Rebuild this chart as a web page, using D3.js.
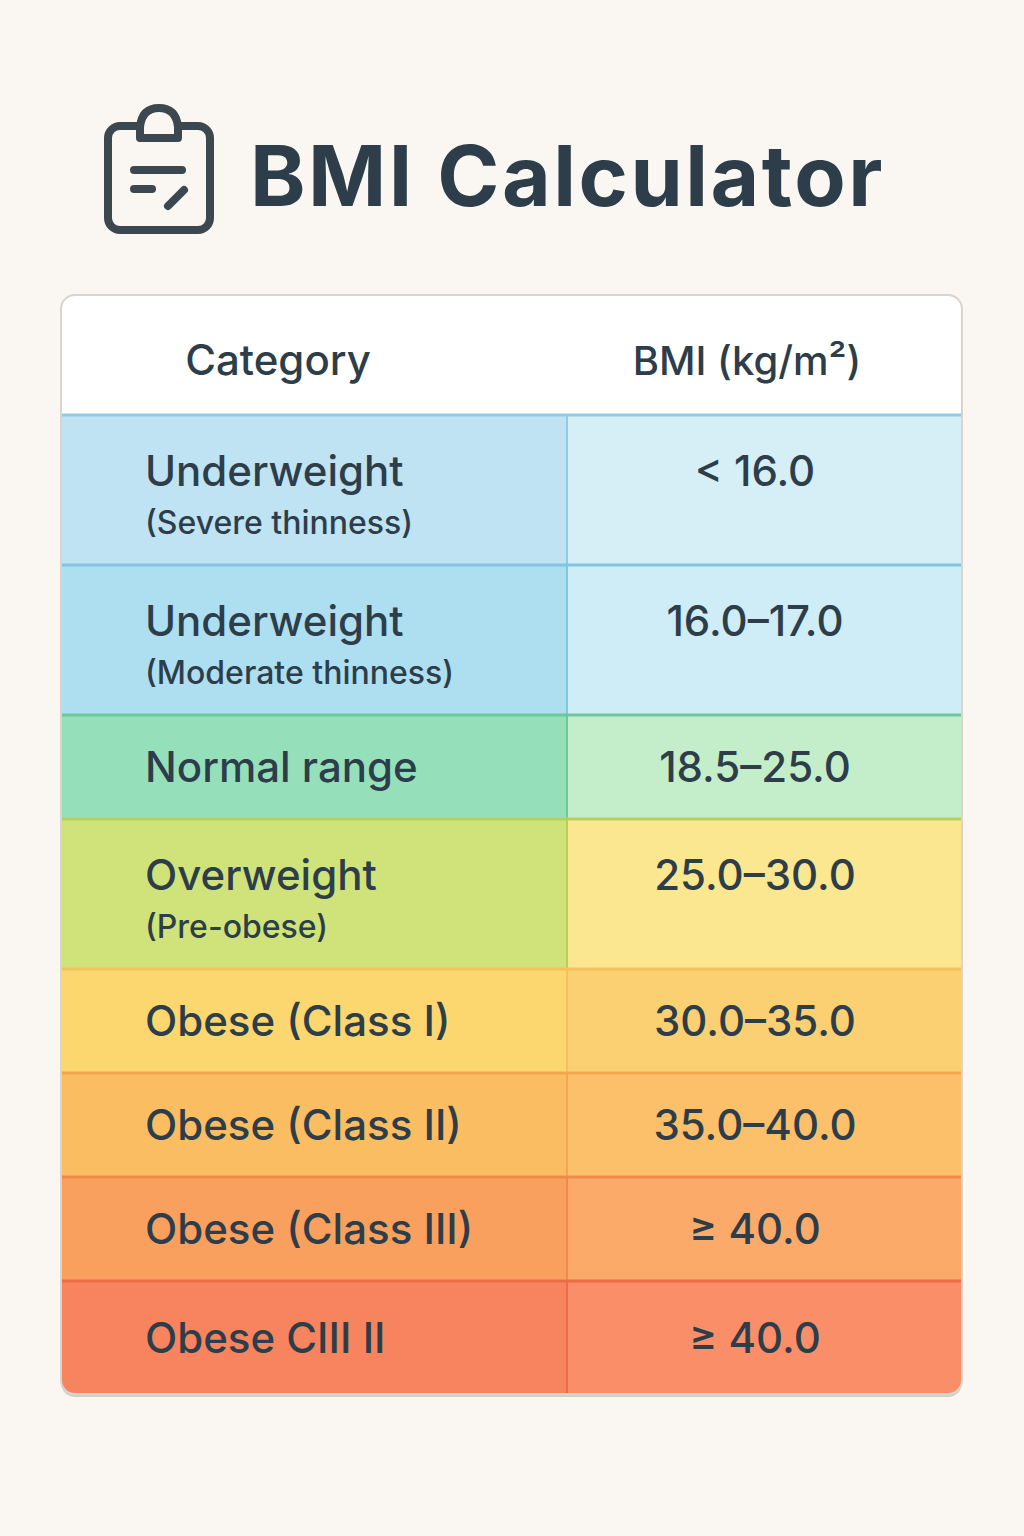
<!DOCTYPE html>
<html>
<head>
<meta charset="utf-8">
<script src="https://cdn.jsdelivr.net/npm/d3@7"></script>
<style>
  html, body { margin: 0; padding: 0; background: #faf7f2; }
  svg { display: block; }
  text { font-family: Inter, Roboto, "Noto Sans", sans-serif; fill: #2d3e4a; font-weight: 500; }
</style>
</head>
<body>
<svg id="chart" width="1024" height="1536"></svg>
<script>
// 資料
const categories = ["Underweight", "Underweight", "Normal range", "Overweight",
  "Obese (Class I)", "Obese (Class II)", "Obese (Class III)", "Obese CIII II"];
const subtitles = ["(Severe thinness)", "(Moderate thinness)", "", "(Pre-obese)", "", "", "", ""];
const ranges = ["< 16.0", "16.0\u201317.0", "18.5\u201325.0", "25.0\u201330.0",
  "30.0\u201335.0", "35.0\u201340.0", "\u2265 40.0", "\u2265 40.0"];
const leftColors = ["#bfe3f2", "#addff0", "#95e0bb", "#cfe37a", "#fcd66e", "#fbbd62", "#f9a05e", "#f8845f"];
const rightColors = ["#d6eff7", "#cfedf6", "#c4eec9", "#fae78f", "#fbd072", "#fcc06a", "#fbaa6a", "#f98e68"];
const lineColors = ["#8fcbe3", "#7fc6df", "#6cc79a", "#b9cf5c", "#f3c25a", "#f3a64d", "#f08a48", "#ee6c45"];
const headers = ["Category", "BMI (kg/m\u00b2)"];

const svg = d3.select("#chart");
const X0 = 61, X1 = 962, XS = 567, TOP = 295, HEAD = 120;

// 列高：兩行 150，單行 104（最後一列稍高）
const heights = categories.map((c, i) => subtitles[i] ? 150 : (i === categories.length - 1 ? 113 : 104));
const ys = [];
heights.reduce((acc, h) => { ys.push(acc); return acc + h; }, TOP + HEAD);
const BOTTOM = ys[ys.length - 1] + heights[heights.length - 1];

// 標題與圖示
const icon = svg.append("g").attr("fill", "none").attr("stroke", "#3b4850")
  .attr("stroke-width", 8).attr("stroke-linecap", "round").attr("stroke-linejoin", "round");
icon.append("rect").attr("x", 108).attr("y", 126).attr("width", 102).attr("height", 104).attr("rx", 12);
icon.append("path").attr("d", "M140,138 L140,127 Q142,108 159,108 Q176,108 178,127 L178,138 Z")
  .attr("fill", "#faf7f2");
icon.append("line").attr("x1", 134).attr("y1", 170).attr("x2", 182).attr("y2", 170);
icon.append("line").attr("x1", 134).attr("y1", 189).attr("x2", 152).attr("y2", 189);
icon.append("line").attr("x1", 168).attr("y1", 206).attr("x2", 184).attr("y2", 190);

svg.append("text").attr("x", 250).attr("y", 206).attr("font-size", 84).style("font-weight", 700)
  .attr("letter-spacing", 2.5).text("BMI Calculator");

// 表格外框
const defs = svg.append("defs");
defs.append("clipPath").attr("id", "clip").append("rect")
  .attr("x", X0).attr("y", TOP).attr("width", X1 - X0).attr("height", BOTTOM - TOP).attr("rx", 14);

svg.append("rect").attr("x", X0).attr("y", TOP + 3).attr("width", X1 - X0).attr("height", BOTTOM - TOP)
  .attr("rx", 14).attr("fill", "#d6cfc6");

const table = svg.append("g").attr("clip-path", "url(#clip)");
table.append("rect").attr("x", X0).attr("y", TOP).attr("width", X1 - X0).attr("height", HEAD).attr("fill", "#fff");

const rows = table.selectAll("g.row").data(categories).join("g").attr("class", "row");
rows.append("rect").attr("x", X0).attr("y", (d, i) => ys[i]).attr("width", XS - X0)
  .attr("height", (d, i) => heights[i]).attr("fill", (d, i) => leftColors[i]);
rows.append("rect").attr("x", XS).attr("y", (d, i) => ys[i]).attr("width", X1 - XS)
  .attr("height", (d, i) => heights[i]).attr("fill", (d, i) => rightColors[i]);
rows.append("line").attr("x1", X0).attr("x2", X1).attr("y1", (d, i) => ys[i]).attr("y2", (d, i) => ys[i])
  .attr("stroke", (d, i) => lineColors[i]).attr("stroke-width", 3);
rows.append("line").attr("x1", XS).attr("x2", XS).attr("y1", (d, i) => ys[i])
  .attr("y2", (d, i) => ys[i] + heights[i]).attr("stroke", (d, i) => lineColors[i]).attr("stroke-width", 2);

// 文字
const mainY = i => subtitles[i] ? ys[i] + 71 : ys[i] + heights[i] / 2 + 15;
rows.append("text").attr("x", 145).attr("y", (d, i) => mainY(i)).attr("font-size", 42).text(d => d);
rows.append("text").attr("x", 145).attr("y", (d, i) => ys[i] + 119).attr("font-size", 32)
  .text((d, i) => subtitles[i]);
rows.append("text").attr("x", 755).attr("y", (d, i) => mainY(i)).attr("font-size", 42)
  .attr("text-anchor", "middle").text((d, i) => ranges[i]);

svg.append("text").attr("x", 278).attr("y", 375).attr("font-size", 42).attr("text-anchor", "middle").text(headers[0]);
svg.append("text").attr("x", 747).attr("y", 375).attr("font-size", 40).attr("text-anchor", "middle").text(headers[1]);

svg.append("rect").attr("x", X0).attr("y", TOP).attr("width", X1 - X0).attr("height", BOTTOM - TOP)
  .attr("rx", 14).attr("fill", "none").attr("stroke", "#d9d4cc").attr("stroke-width", 2);
</script>
</body>
</html>
